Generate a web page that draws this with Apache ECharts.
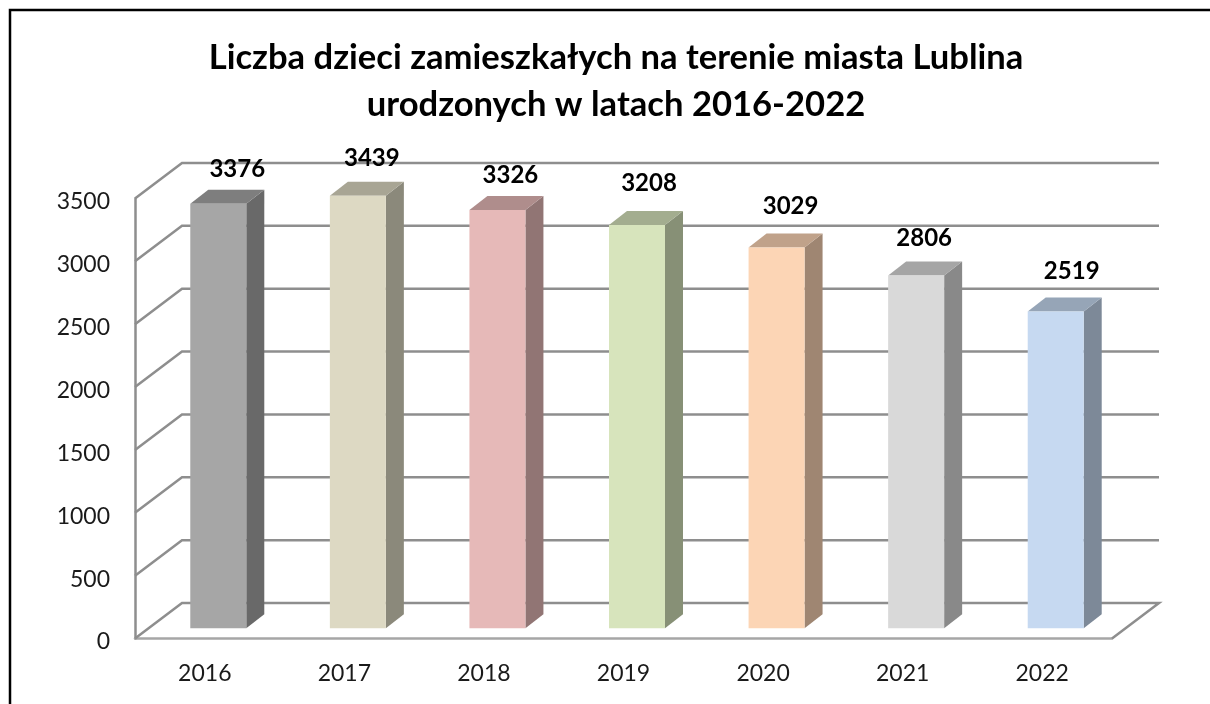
<!DOCTYPE html>
<html>
<head>
<meta charset="utf-8">
<style>
html, body { margin: 0; padding: 0; background: #fff; overflow: hidden; }
#chart { width: 1210px; height: 704px; }
</style>
<script src="https://cdn.jsdelivr.net/npm/echarts@6/dist/echarts.min.js"></script>
</head>
<body>
<div id="chart"></div>
<script>
const years = ['2016', '2017', '2018', '2019', '2020', '2021', '2022'];
const births = [3376, 3439, 3326, 3208, 3029, 2806, 2519];
const gridTicks = [0, 500, 1000, 1500, 2000, 2500, 3000, 3500];
const faceColors = ['#a6a6a6', '#ddd9c3', '#e6b9b8', '#d7e4bc', '#fcd5b5', '#d9d9d9', '#c6d9f1'];
// wartosci przesuniete recznie w oryginale (etykiety nie leza rowno nad slupkami)
const labelShiftX = [19, 14, 13, 12, 14, 8, 16];
const labelShiftY = [35, 38, 35, 42, 41, 37, 40];

const wallDx = 47, wallDy = 35.5;     // glebokosc podlogi
const barGapX = 13.5, barGapY = 10.3; // slupek odsuniety od przedniej krawedzi
const barDx = 18, barDy = 14;         // glebokosc slupka
const barWidth = 56;
const gridColor = '#8e8e8e';

function shade(hex, k) {
    const n = parseInt(hex.slice(1), 16);
    const c = [n >> 16, (n >> 8) & 255, n & 255].map(v => Math.round(v * k));
    return `rgb(${c[0]},${c[1]},${c[2]})`;
}

function renderWall(params, api) {
    const cs = params.coordSys;
    const y = api.coord([0, api.value(1)])[1];
    const x0 = cs.x, x1 = cs.x + cs.width;
    const points = [[x0, y], [x0 + wallDx, y - wallDy], [x1 + wallDx, y - wallDy]];
    if (api.value(1) === 0) points.push([x1, y]);
    return {
        type: 'polyline',
        shape: { points: points },
        style: { fill: 'none', stroke: gridColor, lineWidth: 2.5 }
    };
}

function renderBar(params, api) {
    const i = params.dataIndex;
    const base = api.coord([api.value(0), 0]);
    const top = api.coord([api.value(0), api.value(1)]);
    const l = base[0] + barGapX - barWidth / 2, r = l + barWidth;
    const b = base[1] - barGapY, t = top[1] - barGapY;
    const color = faceColors[i];
    return {
        type: 'group',
        children: [
            {
                type: 'polygon',
                shape: { points: [[r, t], [r + barDx, t - barDy], [r + barDx, b - barDy], [r, b]] },
                style: { fill: shade(color, 0.63) }
            },
            {
                type: 'polygon',
                shape: { points: [[l, t], [l + barDx, t - barDy], [r + barDx, t - barDy], [r, t]] },
                style: { fill: shade(color, 0.76) }
            },
            {
                type: 'rect',
                shape: { x: l, y: t, width: barWidth, height: b - t },
                style: { fill: color }
            },
            {
                type: 'text',
                style: {
                    x: l + barWidth / 2 + labelShiftX[i],
                    y: t - labelShiftY[i],
                    text: String(api.value(1)),
                    align: 'center',
                    verticalAlign: 'middle',
                    font: 'bold 24px Lato',
                    fill: '#000'
                }
            }
        ]
    };
}

const chart = echarts.init(document.getElementById('chart'));
chart.setOption({
    backgroundColor: '#ffffff',
    animation: false,
    title: {
        text: 'Liczba dzieci zamieszkałych na terenie miasta Lublina\nurodzonych w latach 2016-2022',
        left: 611,
        top: 29,
        textAlign: 'center',
        textStyle: { fontFamily: 'Lato', fontWeight: 'bold', fontSize: 34.6, lineHeight: 47, color: '#000' }
    },
    graphic: [{
        type: 'rect',
        shape: { x: 10, y: 10, width: 1300, height: 800 },
        style: { fill: 'none', stroke: '#000', lineWidth: 2.5 }
    }],
    grid: { left: 135, right: 98, top: 198.5, bottom: 65.5 },
    xAxis: {
        type: 'category',
        data: years,
        axisTick: { show: false },
        axisLine: { lineStyle: { color: '#a6a6a6', width: 2.5 } },
        axisLabel: { margin: 24, color: '#1a1a1a', fontFamily: 'Lato', fontSize: 23 }
    },
    yAxis: {
        type: 'value',
        min: 0,
        max: 3500,
        interval: 500,
        axisLine: { show: true, lineStyle: { color: gridColor, width: 2.5 } },
        axisTick: { show: false },
        splitLine: { show: false },
        axisLabel: {
            margin: 25,
            color: '#1a1a1a',
            fontFamily: 'Lato',
            fontSize: 23,
            verticalAlign: 'top',
            lineHeight: 7,
            formatter: v => String(v)
        }
    },
    series: [
        {
            type: 'custom',
            clip: false,
            silent: true,
            renderItem: renderWall,
            encode: { x: 0, y: 1 },
            data: gridTicks.map(v => [0, v]),
            z: 1
        },
        {
            type: 'custom',
            clip: false,
            renderItem: renderBar,
            encode: { x: 0, y: 1 },
            data: births.map((v, i) => [i, v]),
            z: 2
        }
    ]
});

window.addEventListener('resize', () => chart.resize());
</script>
</body>
</html>
